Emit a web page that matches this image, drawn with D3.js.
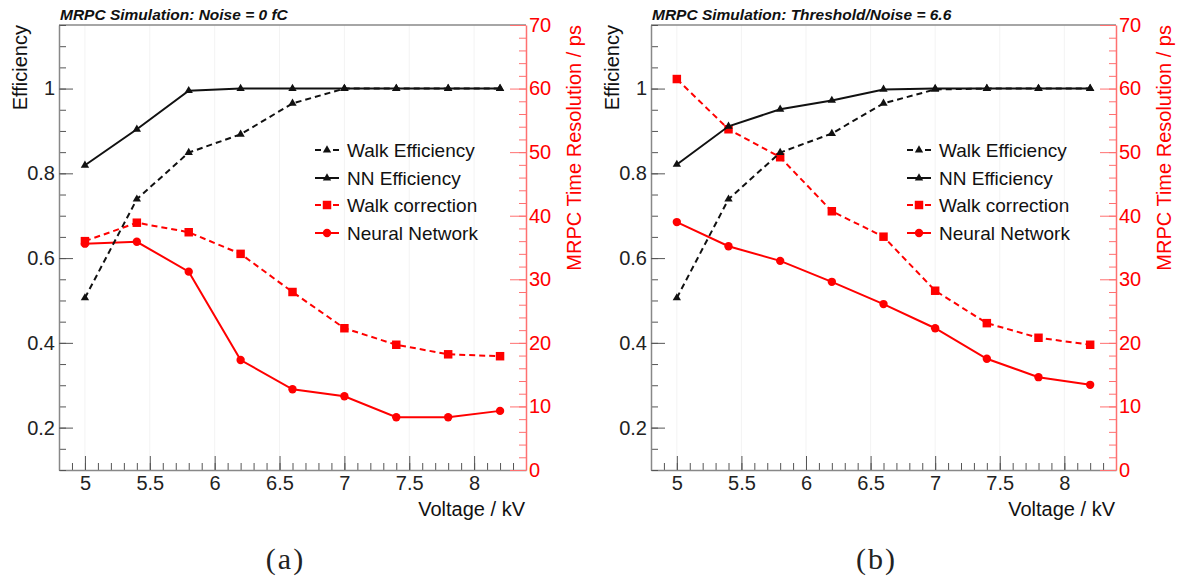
<!DOCTYPE html>
<html>
<head>
<meta charset="utf-8">
<script src="https://cdn.jsdelivr.net/npm/d3@7"></script>
<style>
  body { margin: 0; background: #fff; }
  svg { display: block; font-family: "Liberation Sans", Arial, sans-serif; }
</style>
</head>
<body>
<div id="chart"></div>
<script>
// x values shared by both panels (kV)
const voltage = [5, 5.4, 5.8, 6.2, 6.6, 7.0, 7.4, 7.8, 8.2];

// (a) Noise = 0 fC
const walkEffA = [0.506, 0.739, 0.849, 0.892, 0.965, 1.0, 1.0, 1.0, 1.0];
const nnEffA   = [0.819, 0.904, 0.995, 1.0, 1.0, 1.0, 1.0, 1.0, 1.0];
const walkResA = [36.0, 38.9, 37.4, 34.0, 28.0, 22.3, 19.7, 18.2, 17.9];
const nnResA   = [35.6, 35.9, 31.2, 17.3, 12.7, 11.6, 8.3, 8.3, 9.3];

// (b) Threshold/Noise = 6.6
const walkEffB = [0.506, 0.739, 0.849, 0.894, 0.965, 0.998, 1.0, 1.0, 1.0];
const nnEffB   = [0.821, 0.911, 0.951, 0.972, 0.998, 1.0, 1.0, 1.0, 1.0];
const walkResB = [61.5, 53.6, 49.2, 40.7, 36.7, 28.2, 23.1, 20.8, 19.7];
const nnResB   = [39.0, 35.2, 32.9, 29.6, 26.1, 22.3, 17.5, 14.6, 13.4];

const panelTitles = ["MRPC Simulation: Noise = 0 fC", "MRPC Simulation: Threshold/Noise = 6.6"];
const panelLabels = ["(a)", "(b)"];
const legendNames = ["Walk Efficiency", "NN Efficiency", "Walk correction", "Neural Network"];

const xTicks = [5, 5.5, 6, 6.5, 7, 7.5, 8];
const effTicks = [0.2, 0.4, 0.6, 0.8, 1];
const resTicks = [0, 10, 20, 30, 40, 50, 60, 70];

const W = 1182, H = 577;
const RED = "#ff0000";
const SANS = "Liberation Sans, Arial, sans-serif";

const svg = d3.select("#chart").append("svg")
  .attr("width", W)
  .attr("height", H);

function drawPanel(left, right, series, title, label) {
  let top = 25, bottom = 470;

  let x = d3.scaleLinear().domain([4.8, 8.4]).range([left, right]);
  let yEff = d3.scaleLinear().domain([0.1, 1.15]).range([bottom, top]);
  let yRes = d3.scaleLinear().domain([0, 70]).range([bottom, top]);

  let g = svg.append("g");

  // faint vertical grid
  g.append("g").selectAll("line")
    .data(xTicks)
    .join("line")
    .attr("x1", d => x(d)).attr("x2", d => x(d))
    .attr("y1", top).attr("y2", bottom)
    .attr("stroke", "#f3f3f3");

  // frame top
  g.append("line")
    .attr("x1", left).attr("x2", right)
    .attr("y1", top).attr("y2", top)
    .attr("stroke", "#888").attr("stroke-width", 1.5);

  // x axis, ticks pointing up
  let xMinor = d3.range(48, 85).map(d => d / 10);
  g.append("g")
    .attr("transform", "translate(0," + bottom + ")")
    .call(d3.axisBottom(x).tickValues(xMinor).tickSize(-7).tickFormat(""))
    .call(a => a.select(".domain").remove())
    .call(a => a.selectAll("line").attr("stroke", "#555"));
  let xAxis = g.append("g")
    .attr("transform", "translate(0," + bottom + ")")
    .call(d3.axisBottom(x).tickValues(xTicks).tickSize(-14).tickPadding(6).tickSizeOuter(0).tickFormat(d3.format("")));
  xAxis.select(".domain").attr("stroke", "#888").attr("stroke-width", 1.5);
  xAxis.selectAll("line").attr("stroke", "#555");
  xAxis.selectAll("text").attr("font-size", 20).attr("fill", "#222").attr("font-family", SANS);

  // left efficiency axis
  let effMinor = d3.range(2, 24).map(d => d * 0.05);
  g.append("g")
    .attr("transform", "translate(" + left + ",0)")
    .call(d3.axisLeft(yEff).tickValues(effMinor).tickSize(-7).tickFormat(""))
    .call(a => a.select(".domain").remove())
    .call(a => a.selectAll("line").attr("stroke", "#555"));
  let yAxis = g.append("g")
    .attr("transform", "translate(" + left + ",0)")
    .call(d3.axisLeft(yEff).tickValues(effTicks).tickSize(-14).tickPadding(4).tickSizeOuter(0).tickFormat(d3.format("")));
  yAxis.select(".domain").attr("stroke", "#888").attr("stroke-width", 1.5);
  yAxis.selectAll("line").attr("stroke", "#555");
  yAxis.selectAll("text").attr("font-size", 20).attr("fill", "#222").attr("font-family", SANS);

  // right resolution axis (red)
  let resMinor = d3.range(0, 71, 2);
  g.append("g")
    .attr("transform", "translate(" + right + ",0)")
    .call(d3.axisRight(yRes).tickValues(resMinor).tickSize(-7).tickFormat(""))
    .call(a => a.select(".domain").remove())
    .call(a => a.selectAll("line").attr("stroke", "#ff7070"));
  let rAxis = g.append("g")
    .attr("transform", "translate(" + right + ",0)")
    .call(d3.axisRight(yRes).tickValues(resTicks).tickSize(-16).tickPadding(3).tickSizeOuter(0));
  rAxis.select(".domain").attr("stroke", "#ff7070").attr("stroke-width", 1.5);
  rAxis.selectAll("line").attr("stroke", "#ff7070");
  rAxis.selectAll("text").attr("font-size", 20).attr("fill", RED).attr("font-family", SANS);

  // axis titles
  g.append("text")
    .attr("transform", "translate(" + (left - 32) + "," + top + ") rotate(-90)")
    .attr("text-anchor", "end")
    .attr("font-size", 20).attr("fill", "#111")
    .text("Efficiency");
  g.append("text")
    .attr("transform", "translate(" + (right + 55) + "," + top + ") rotate(-90)")
    .attr("text-anchor", "end")
    .attr("font-size", 20).attr("fill", RED)
    .text("MRPC Time Resolution / ps");
  g.append("text")
    .attr("x", right - 1).attr("y", 516)
    .attr("text-anchor", "end")
    .attr("font-size", 20).attr("fill", "#111")
    .text("Voltage / kV");

  // panel title
  g.append("text")
    .attr("x", left + 1).attr("y", 20)
    .attr("font-size", 15.5).attr("font-weight", "bold").attr("font-style", "italic")
    .attr("fill", "#111")
    .text(title);

  // sub-figure label (serif, like the LaTeX caption)
  g.append("text")
    .attr("x", (left + right) / 2 - 7).attr("y", 569)
    .attr("text-anchor", "middle")
    .style("font-family", "'Liberation Serif', 'DejaVu Serif', serif")
    .attr("font-size", 30).attr("fill", "#222")
    .attr("letter-spacing", 2)
    .text(label);

  // series
  let styles = [
    { values: series[0], y: yEff, color: "#111", dash: "6,4", symbol: d3.symbolTriangle, size: 30 },
    { values: series[1], y: yEff, color: "#111", dash: null, symbol: d3.symbolTriangle, size: 30 },
    { values: series[2], y: yRes, color: RED, dash: "6,4", symbol: d3.symbolSquare, size: 72 },
    { values: series[3], y: yRes, color: RED, dash: null, symbol: d3.symbolCircle, size: 55 }
  ];

  // draw order: red first, black on top where they cross
  [2, 3, 0, 1].forEach(i => {
    let s = styles[i];
    let pts = voltage.map((v, k) => [v, s.values[k]]);
    let line = d3.line()
      .x(d => x(d[0]))
      .y(d => s.y(d[1]));
    g.append("path")
      .datum(pts)
      .attr("fill", "none")
      .attr("stroke", s.color)
      .attr("stroke-width", 2)
      .attr("stroke-dasharray", s.dash)
      .attr("d", line);
    g.append("g").selectAll("path")
      .data(pts)
      .join("path")
      .attr("transform", d => "translate(" + x(d[0]) + "," + s.y(d[1]) + ")")
      .attr("d", d3.symbol(s.symbol, s.size))
      .attr("fill", s.color);
  });

  // legend
  let lx = left + 256, ly = [150, 178, 205, 233];
  styles.forEach((s, i) => {
    let row = g.append("g").attr("transform", "translate(" + lx + "," + ly[i] + ")");
    row.append("line")
      .attr("x1", 0).attr("x2", 24)
      .attr("stroke", s.color).attr("stroke-width", 2)
      .attr("stroke-dasharray", s.dash ? "6,12" : null);
    row.append("path")
      .attr("transform", "translate(12,0)")
      .attr("d", d3.symbol(s.symbol, s.size))
      .attr("fill", s.color);
    row.append("text")
      .attr("x", 32).attr("dy", "0.35em")
      .attr("font-size", 19).attr("fill", "#111")
      .text(legendNames[i]);
  });
}

drawPanel(59, 526, [walkEffA, nnEffA, walkResA, nnResA], panelTitles[0], panelLabels[0]);
drawPanel(651, 1116, [walkEffB, nnEffB, walkResB, nnResB], panelTitles[1], panelLabels[1]);
</script>
</body>
</html>
